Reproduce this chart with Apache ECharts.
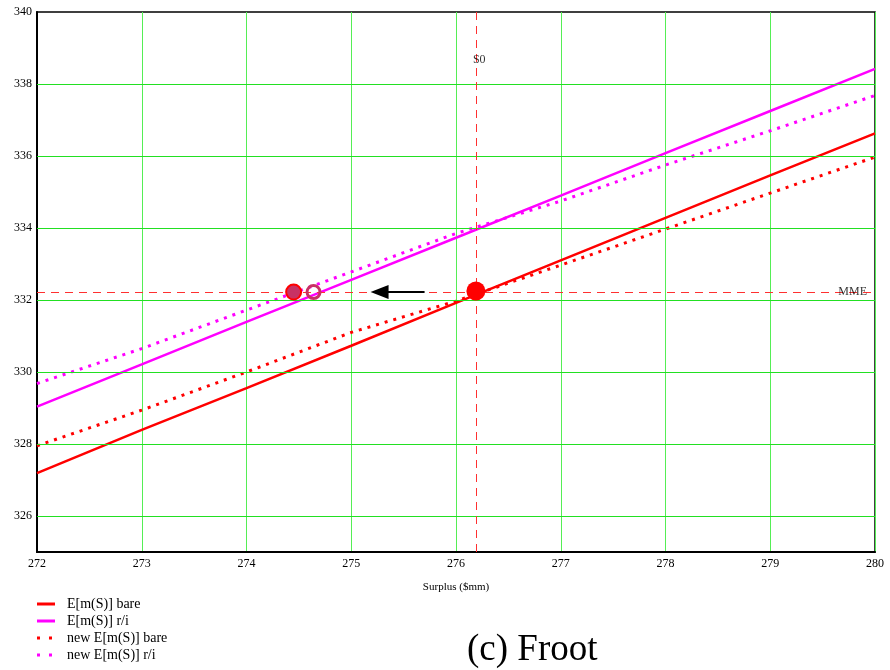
<!DOCTYPE html>
<html>
<head>
<meta charset="utf-8">
<script src="https://cdn.jsdelivr.net/npm/echarts@6/dist/echarts.min.js"></script>
<style>
html,body{margin:0;padding:0;background:#fff;}
#c{width:890px;height:670px;}
</style>
</head>
<body>
<div id="c"></div>
<script>
const xs = [272, 273, 274, 275, 276, 277, 278, 279, 280];
const bare = [327.19, 328.39, 329.55, 330.73, 331.92, 333.10, 334.28, 335.46, 336.63];
const ri = [329.04, 330.21, 331.39, 332.56, 333.73, 334.90, 336.08, 337.25, 338.42];
const newBare = [327.95, 328.94, 330.00, 331.10, 331.97, 332.97, 333.97, 334.97, 335.97];
const newRi = [329.68, 330.65, 331.72, 332.78, 333.85, 334.75, 335.75, 336.70, 337.68];
const yTicks = [326, 328, 330, 332, 334, 336, 338, 340];
const S0 = 276.19;
const MME = 332.22;
const oldPoint = [276.19, 332.25];
const newBarePoint = [274.45, 332.22];
const newRiPoint = [274.64, 332.22];
const arrowFrom = [275.70, 332.22];
const arrowTo = [275.27, 332.22];
const seriesNames = ['E[m(S)] bare', 'E[m(S)] r/i', 'new E[m(S)] bare', 'new E[m(S)] r/i'];

const pair = (a) => xs.map((x, i) => [x, a[i]]);
const serif = 'Liberation Serif';
const solidIcon = 'path://M0,0H18V3H0Z';
const dotIcon = 'path://M0,0H3V3H0Z M12,0H15V3H12Z M18,0H18.01V3H18Z';

const chart = echarts.init(document.getElementById('c'));
chart.setOption({
  animation: false,
  backgroundColor: '#fff',
  grid: { left: 37, right: 15, top: 12, bottom: 118, show: true, borderColor: '#000', borderWidth: 1.5 },
  xAxis: {
    type: 'value', min: 272, max: 280, interval: 1,
    name: 'Surplus ($mm)', nameLocation: 'middle', nameGap: 30,
    nameTextStyle: { fontFamily: serif, fontSize: 11, color: '#000' },
    axisLine: { lineStyle: { color: '#000', width: 2 } },
    axisTick: { show: false },
    axisLabel: { fontFamily: serif, fontSize: 12, color: '#000', margin: 6 },
    splitLine: { show: true, lineStyle: { color: '#55ee55', width: 1 } }
  },
  yAxis: {
    type: 'value', min: 325, max: 340, interval: 1,
    axisLine: { lineStyle: { color: '#000', width: 2 } },
    axisTick: { show: false },
    axisLabel: {
      fontFamily: serif, fontSize: 12, color: '#000', margin: 5,
      formatter: (v) => (yTicks.indexOf(v) >= 0 ? String(v) : '')
    },
    splitLine: { show: false }
  },
  legend: {
    orient: 'vertical', left: 37, top: 597, height: 80, width: 300, padding: 0,
    itemWidth: 18, itemHeight: 3, itemGap: 3,
    textStyle: { fontFamily: serif, fontSize: 14, color: '#000', padding: [0, 0, 0, 7] },
    data: [
      { name: seriesNames[0], icon: solidIcon },
      { name: seriesNames[1], icon: solidIcon },
      { name: seriesNames[2], icon: dotIcon },
      { name: seriesNames[3], icon: dotIcon }
    ]
  },
  graphic: [{
    type: 'text', left: 467, top: 632,
    style: { text: '(c) Froot', font: '37px "Liberation Serif"', fill: '#000' }
  }],
  series: [
    {
      name: 'ygrid', type: 'line', data: [], silent: true,
      markLine: {
        silent: true, symbol: 'none', animation: false,
        label: { show: false },
        lineStyle: { color: '#22e022', type: 'solid', width: 1 },
        data: yTicks.filter(v => v < 340).map(v => ({ yAxis: v }))
      },
      z: 1
    },
    {
      name: seriesNames[0], type: 'line', data: pair(bare), showSymbol: false, symbol: 'none',
      lineStyle: { color: '#ff0000', width: 2.5 }, itemStyle: { color: '#ff0000' }, z: 3
    },
    {
      name: seriesNames[1], type: 'line', data: pair(ri), showSymbol: false, symbol: 'none',
      lineStyle: { color: '#ff00ff', width: 2.5 }, itemStyle: { color: '#ff00ff' }, z: 3
    },
    {
      name: seriesNames[2], type: 'line', data: pair(newBare), showSymbol: false, symbol: 'none',
      lineStyle: { color: '#ff0000', width: 3, type: [3, 6] }, itemStyle: { color: '#ff0000' }, z: 3
    },
    {
      name: seriesNames[3], type: 'line', data: pair(newRi), showSymbol: false, symbol: 'none',
      lineStyle: { color: '#ff00ff', width: 3, type: [3, 6] }, itemStyle: { color: '#ff00ff' }, z: 3
    },
    {
      name: 'guides', type: 'line', data: [], silent: true,
      markLine: {
        silent: true, symbol: 'none', animation: false,
        label: { show: false },
        lineStyle: { color: '#ff3030', type: [8, 6], width: 1 },
        data: [{ xAxis: S0 }, { yAxis: MME }]
      },
      z: 2
    },
    {
      name: 'arrow', type: 'line', data: [], silent: true,
      markLine: {
        silent: true, animation: false,
        symbol: ['none', 'triangle'], symbolSize: [14, 18],
        label: { show: false },
        lineStyle: { color: '#000', type: 'solid', width: 2 },
        data: [[{ coord: arrowFrom }, { coord: arrowTo }]]
      },
      z: 4
    },
    {
      name: 'labels', type: 'scatter', symbolSize: 0, silent: true,
      data: [
        { value: [S0, 338.7], label: { show: true, formatter: 'S0', position: 'right', offset: [-8, 1] } },
        { value: [280, MME], label: { show: true, formatter: 'MME', position: 'left', offset: [-3, 0] } }
      ],
      label: { fontFamily: serif, fontSize: 12, color: '#000' },
      z: 5
    },
    {
      name: 'old', type: 'scatter', silent: true,
      data: [oldPoint], symbolSize: 19,
      itemStyle: { color: '#ff0000', opacity: 1 }, z: 6
    },
    {
      name: 'newBarePt', type: 'scatter', silent: true,
      data: [newBarePoint], symbolSize: 15,
      itemStyle: { color: '#c83264', borderColor: '#ff0000', borderWidth: 2, opacity: 1 }, z: 6
    },
    {
      name: 'newRiPt', type: 'scatter', silent: true,
      data: [newRiPoint], symbolSize: 13,
      itemStyle: { color: 'rgba(255,255,255,0)', borderColor: '#c83264', borderWidth: 3, opacity: 1 }, z: 6
    }
  ]
});
</script>
</body>
</html>
